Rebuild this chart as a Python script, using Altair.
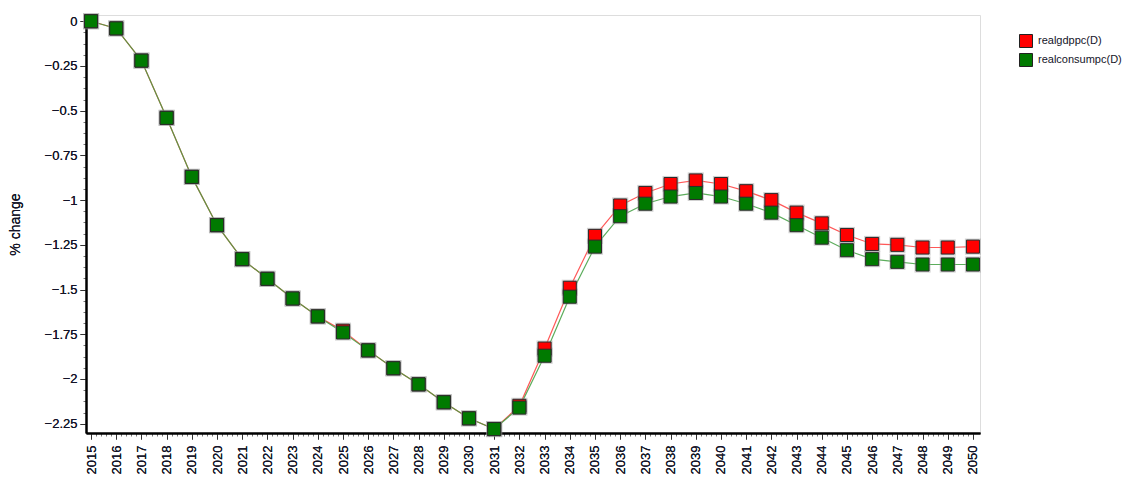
import altair as alt
import pandas as pd

# Years and series values (% change from baseline)
years = list(range(2015, 2051))
realgdppc = [0.00, -0.04, -0.22, -0.54, -0.87, -1.14, -1.33, -1.44, -1.55, -1.65,
             -1.73, -1.84, -1.94, -2.03, -2.13, -2.22, -2.28, -2.15, -1.83, -1.49,
             -1.20, -1.03, -0.96, -0.91, -0.89, -0.91, -0.95, -1.00, -1.07, -1.13,
             -1.195, -1.245, -1.25, -1.265, -1.265, -1.26]
realconsumpc = [0.00, -0.04, -0.22, -0.54, -0.87, -1.14, -1.33, -1.44, -1.55, -1.65,
                -1.74, -1.84, -1.94, -2.03, -2.13, -2.22, -2.28, -2.16, -1.87, -1.54,
                -1.26, -1.09, -1.02, -0.98, -0.96, -0.98, -1.02, -1.07, -1.14, -1.21,
                -1.28, -1.33, -1.345, -1.36, -1.36, -1.36]
series_names = ["realgdppc(D)", "realconsumpc(D)"]
fill_colors = ["#ff0000", "#007a00"]
line_colors = ["#ff3b3b", "#3f9f3f"]

y_major = [0, -0.25, -0.5, -0.75, -1, -1.25, -1.5, -1.75, -2, -2.25]

df = pd.DataFrame({
    "year": years * 2,
    "value": realgdppc + realconsumpc,
    "series": [series_names[0]] * len(years) + [series_names[1]] * len(years),
    "order": [0] * len(years) + [1] * len(years),
})

# minor tick positions
x_minor = [y + k * 0.2 for y in years[:-1] for k in range(1, 5)]
y_minor = [-(i * 0.0625) for i in range(0, 37) if i % 4 != 0]

FONT = "Liberation Sans"
TEXT = "#141428"
x_scale = alt.Scale(domain=[2014.8, 2050.28], nice=False, zero=False)
y_scale = alt.Scale(domain=[-2.302, 0.035], nice=False, zero=False)

label_expr = "format(datum.value, '.2~f')"

x_main = alt.X("year:Q", scale=x_scale, title=None,
               axis=alt.Axis(values=years, format="d", labelAngle=270, labelAlign="right",
                             labelBaseline="middle", labelPadding=6, tickSize=6,
                             tickColor="#333", tickWidth=1, domainColor="#000",
                             domainWidth=2, labelFont=FONT, labelFontSize=13,
                             labelColor=TEXT, grid=False, orient="bottom",
                             labelOverlap=False, labelFlush=False))
y_main = alt.Y("value:Q", scale=y_scale, title="% change",
               axis=alt.Axis(values=y_major, labelExpr=label_expr, tickSize=6,
                             tickColor="#333", tickWidth=1, domainColor="#000",
                             domainWidth=2, labelFont=FONT, labelFontSize=13,
                             labelColor=TEXT, labelPadding=3, grid=False,
                             orient="left", titleFont=FONT, titleFontSize=14,
                             titleFontWeight="normal", titleColor=TEXT,
                             titleAngle=270, titleX=-71, titleY=209,
                             titleAlign="center", titleBaseline="middle",
                             labelOverlap=False, labelFlush=False))

lines = []
for name, lc in zip(series_names, line_colors):
    lines.append(
        alt.Chart(df).transform_filter(alt.datum.series == name)
        .mark_line(strokeWidth=1.2, opacity=0.85, color=lc)
        .encode(x=x_main, y=y_main)
    )

# soft halo behind each marker
halo = alt.Chart(df).mark_square(size=260, color="#9a9a9a", opacity=0.45).encode(
    x=alt.X("year:Q", scale=x_scale, axis=None),
    y=alt.Y("value:Q", scale=y_scale, axis=None),
    order=alt.Order("order:Q"),
)

points = alt.Chart(df).mark_square(size=170, opacity=1, stroke="#2b2b2b",
                                   strokeWidth=1).encode(
    x=alt.X("year:Q", scale=x_scale, axis=None),
    y=alt.Y("value:Q", scale=y_scale, axis=None),
    fill=alt.Fill("series:N", scale=alt.Scale(domain=series_names, range=fill_colors),
                  legend=alt.Legend(title=None, orient="none", legendX=933,
                                    legendY=19, padding=0, symbolType="square",
                                    symbolSize=169, symbolStrokeColor="#222",
                                    symbolStrokeWidth=1, symbolOpacity=1,
                                    labelFont=FONT, labelFontSize=11,
                                    labelColor=TEXT, rowPadding=1,
                                    symbolOffset=0, labelOffset=5)),
    order=alt.Order("order:Q"),
)

# minor ticks on both axes
minor_x = alt.Chart(df).mark_point(opacity=0).encode(
    x=alt.X("year:Q", scale=x_scale, title=None,
            axis=alt.Axis(values=x_minor, labels=False, tickSize=3, tickColor="#777",
                          domain=False, grid=False, orient="bottom")),
    y=alt.Y("value:Q", scale=y_scale, title=None,
            axis=alt.Axis(values=y_minor, labels=False, tickSize=3, tickColor="#777",
                          domain=False, grid=False, orient="left")),
)

chart = alt.layer(minor_x, *lines, halo, points).resolve_axis(
    x="independent", y="independent"
).properties(
    width=894, height=418,
    padding={"left": 86, "top": 15, "right": 149, "bottom": 51},
    autosize=alt.AutoSizeParams(type="none"),
).configure_view(stroke="#999", strokeWidth=1).configure(background="white")

chart.save("out.html", embed_options={"renderer": "svg", "actions": False})
